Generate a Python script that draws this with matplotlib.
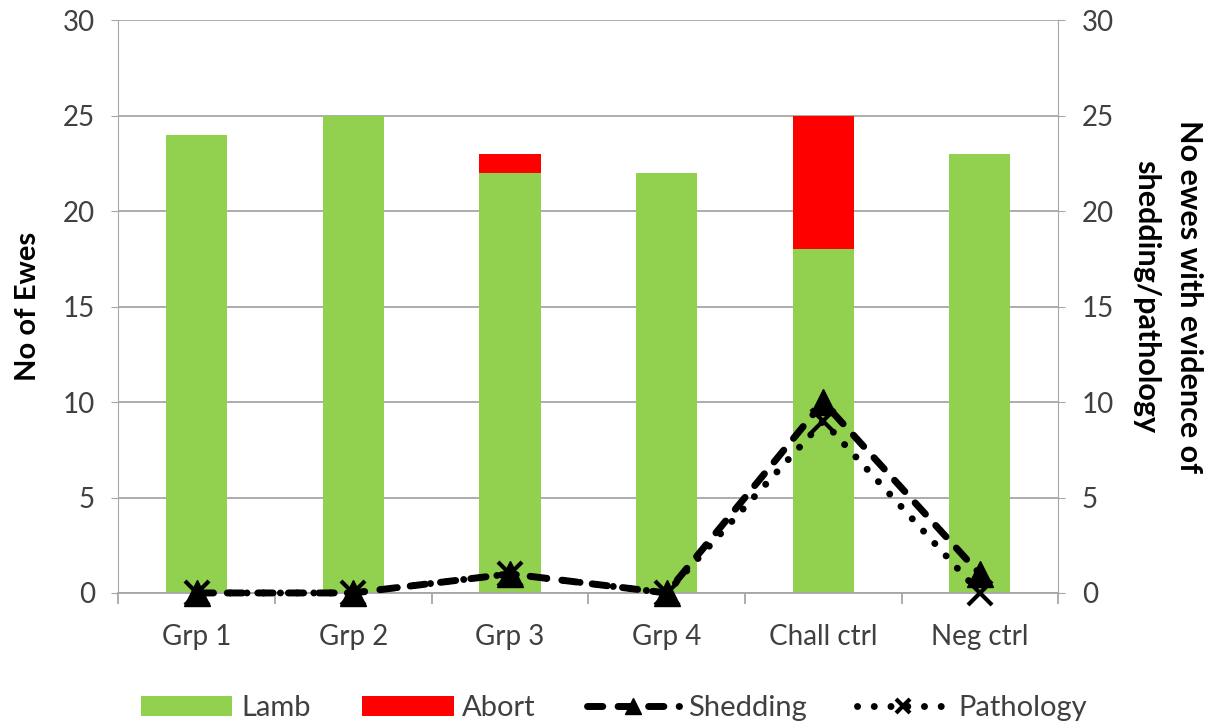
import numpy as np
import matplotlib.pyplot as plt

plt.rcParams['font.family'] = ['Lato', 'DejaVu Sans']

groups = ['Grp 1', 'Grp 2', 'Grp 3', 'Grp 4', 'Chall ctrl', 'Neg ctrl']
lamb = [24, 25, 22, 22, 18, 23]
abort = [0, 0, 1, 0, 7, 0]
shedding = [0, 0, 1, 0, 10, 1]
pathology = [0, 0, 1, 0, 9, 0]

x = np.arange(len(groups))
grey = '#a6a6a6'

fig = plt.figure(figsize=(12.08, 7.24), dpi=100)
ax = fig.add_axes([0.098, 0.181, 0.778, 0.791])
ax2 = ax.twinx()

b1 = ax.bar(x, lamb, width=0.39, color='#92d050', label='Lamb', zorder=2)
b2 = ax.bar(x, abort, width=0.39, bottom=lamb, color='#ff0000', label='Abort', zorder=2)

l1, = ax2.plot(x, shedding, color='black', lw=5, ls=(0, (2.2, 2.2)),
               marker='^', ms=19, dash_capstyle='round', label='Shedding',
               zorder=4, clip_on=False)
l2, = ax2.plot(x, pathology, color='black', lw=5, ls=(0, (0.01, 2.4)),
               dash_capstyle='round', marker='x', ms=17, mew=3,
               label='Pathology', zorder=3, clip_on=False)

for a in (ax, ax2):
    a.set_ylim(0, 30)
    a.set_yticks(range(0, 31, 5))
    a.set_xlim(-0.5, 5.5)
    a.tick_params(axis='y', labelsize=20, colors='#404040', length=5, color=grey, pad=12)
    for s in a.spines.values():
        s.set_visible(False)
ax2.patch.set_visible(False)

ax.yaxis.grid(True, color=grey, lw=1.3, zorder=0)
ax.set_axisbelow(True)
ax.spines['left'].set_visible(True)
ax.spines['left'].set_color(grey)
ax.spines['bottom'].set_visible(True)
ax.spines['bottom'].set_color(grey)
ax.spines['bottom'].set_linewidth(1.3)
ax2.spines['right'].set_visible(True)
ax2.spines['right'].set_color(grey)

ax.set_xticks(x)
ax.set_xticklabels(groups, fontsize=20, color='#404040')
ax.set_xticks(np.arange(-0.5, 6, 1), minor=True)
ax.tick_params(axis='x', which='major', length=0, pad=22)
ax.tick_params(axis='x', which='minor', length=8, color=grey, width=1.3)

ax.set_ylabel('No of Ewes', fontsize=21, fontweight='bold')
ax.yaxis.set_label_coords(-0.096, 0.5)
ax.yaxis.label.set_va('center')

ax2.set_ylabel('No ewes with evidence of\nshedding/pathology', fontsize=22,
               fontweight='bold', rotation=-90, linespacing=1.65)
ax2.yaxis.set_label_coords(1.116, 0.517)
ax2.yaxis.label.set_va('center')
ax2.yaxis.label.set_ha('center')

fig.legend(handles=[b1, b2, l1, l2], loc='lower center', ncol=4, frameon=False,
           fontsize=21, bbox_to_anchor=(0.508, -0.032), handlelength=3.15,
           columnspacing=1.75, handletextpad=0.3, labelcolor='#404040',
           markerscale=0.6)

fig.savefig('out.png', dpi=100)
